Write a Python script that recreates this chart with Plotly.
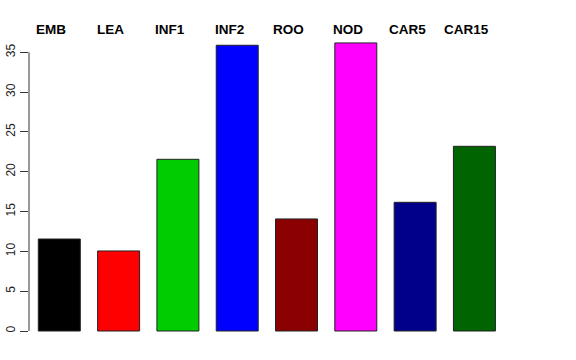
import plotly.graph_objects as go

categories = ["EMB", "LEA", "INF1", "INF2", "ROO", "NOD", "CAR5", "CAR15"]
values = [11.55, 10.05, 21.56, 35.88, 14.07, 36.17, 16.16, 23.19]
bar_colors = ["#000000", "#FF0000", "#00CD00", "#0000FF", "#8B0000", "#FF00FF", "#00008B", "#006400"]
y_ticks = [0, 5, 10, 15, 20, 25, 30, 35]

x_idx = list(range(len(categories)))

fig = go.Figure()
fig.add_trace(go.Bar(
    x=x_idx, y=values,
    marker=dict(color=bar_colors, line=dict(color="#222222", width=1)),
    width=0.708,
    hoverinfo="skip",
))

annotations = []
for i, c in enumerate(categories):
    annotations.append(dict(
        x=i - 0.135, y=1.036, xref="x", yref="paper", text="<b>%s</b>" % c,
        showarrow=False, xanchor="center", yanchor="middle",
        font=dict(family="Liberation Sans, Arial, sans-serif", size=13.5, color="#000000"),
    ))

fig.update_layout(
    width=576, height=360,
    margin=dict(l=29, r=30, t=40, b=15),
    plot_bgcolor="white", paper_bgcolor="white",
    showlegend=False,
    annotations=annotations,
    shapes=[dict(type="line", xref="paper", yref="y", x0=0, x1=0,
                 y0=min(y_ticks), y1=max(y_ticks),
                 line=dict(color="#333333", width=1))],
    xaxis=dict(range=[-0.511, 8.207], showticklabels=False, showgrid=False,
               zeroline=False, showline=False, ticks="", automargin=False),
    yaxis=dict(range=[-1.758, 36.54], tickvals=y_ticks, ticktext=[str(t) for t in y_ticks],
               tickangle=-90, ticks="outside", ticklen=8, tickcolor="#333333",
               showgrid=False, zeroline=False, showline=False, automargin=False,
               tickfont=dict(family="Liberation Sans, Arial, sans-serif", size=12, color="#222222")),
)

fig.write_html("out.html", config={"displayModeBar": False},
               post_script="document.body.style.margin='0';document.body.style.padding='0';")
